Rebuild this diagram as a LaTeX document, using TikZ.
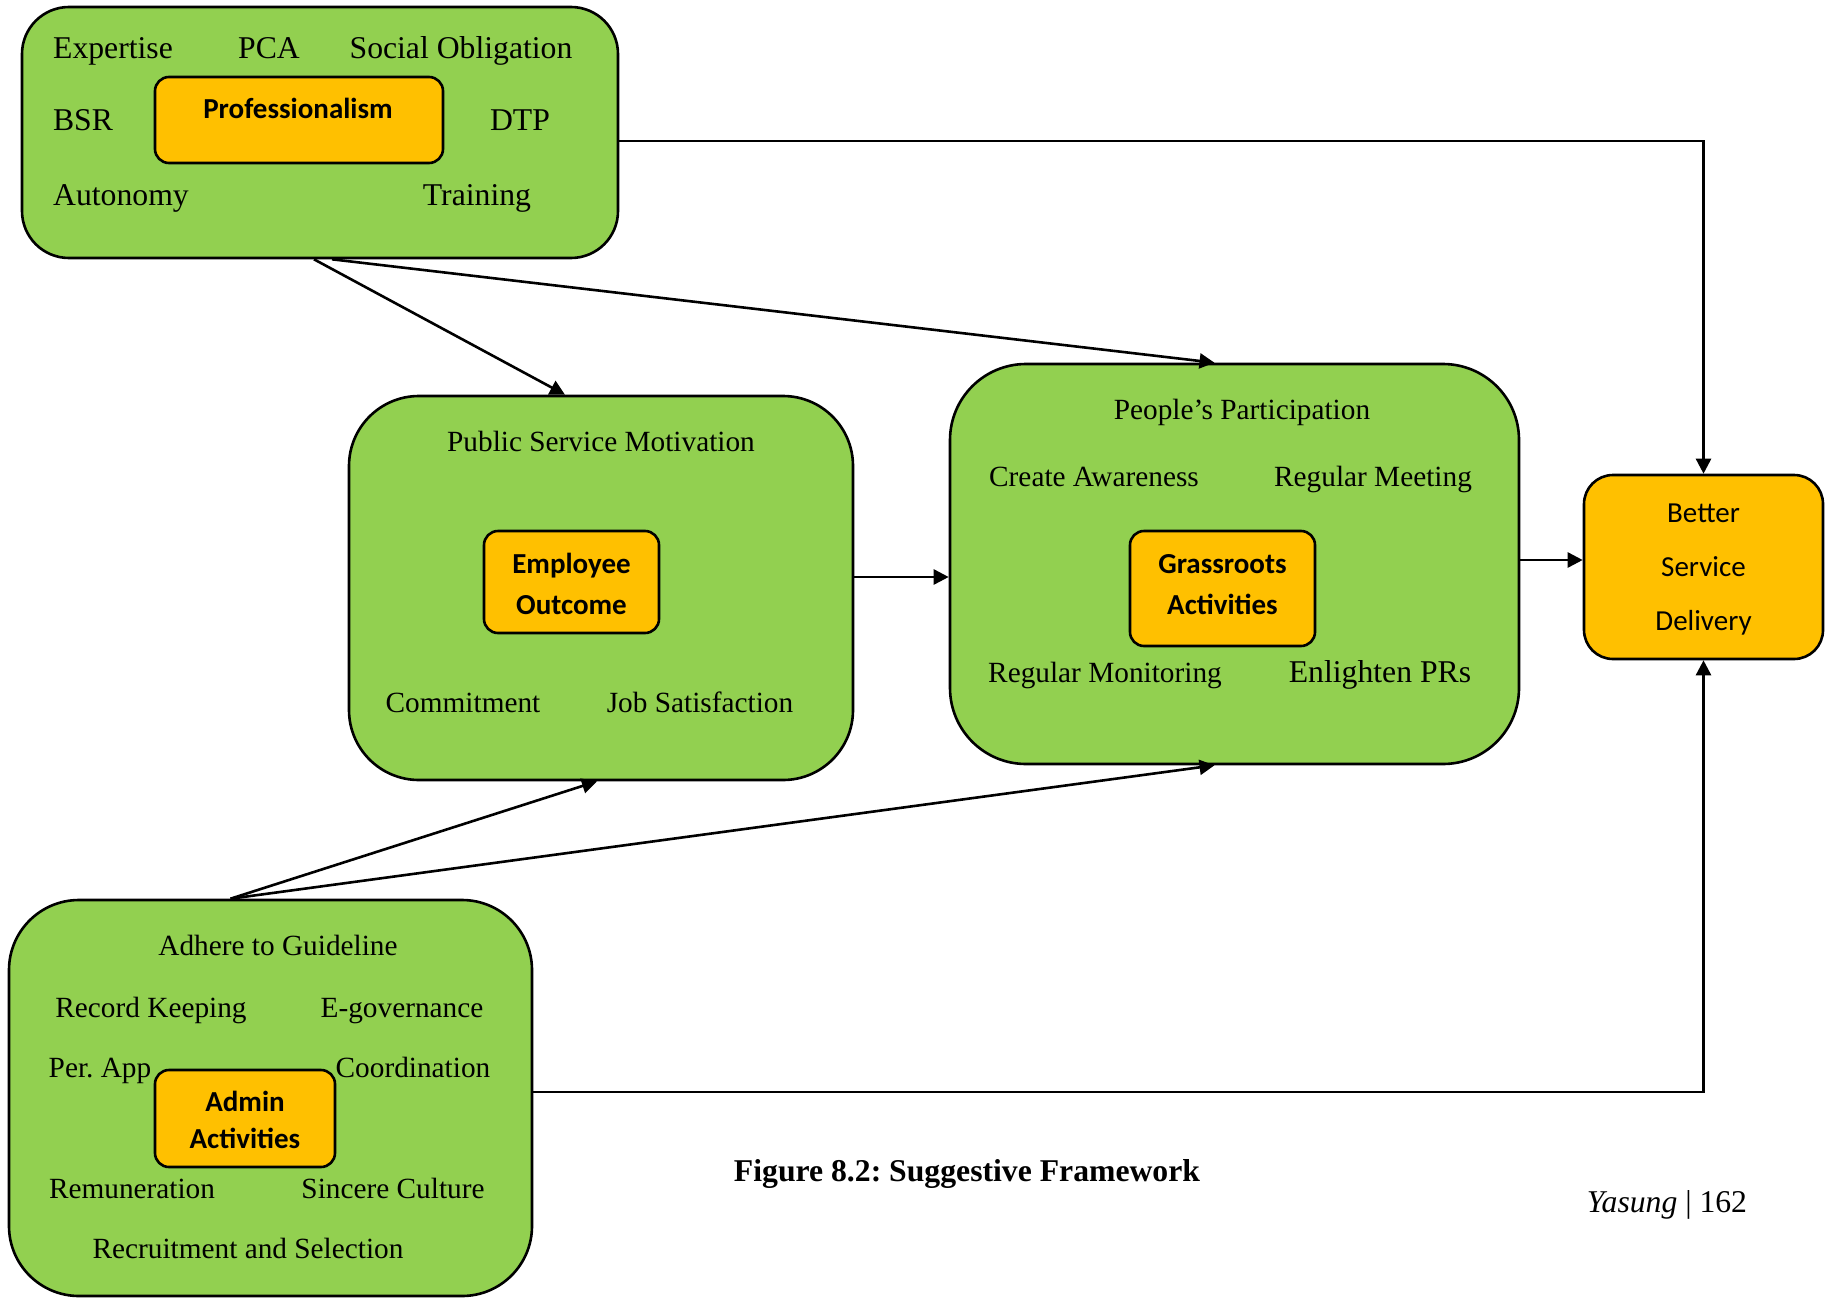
\documentclass[tikz,border=0pt]{standalone}
\usepackage{fontspec}
\setmainfont{Liberation Serif}
\newfontfamily\calibri{Carlito}
\usepackage{tikz}
\usetikzlibrary{arrows.meta,calc}
\frenchspacing
\definecolor{leaf}{HTML}{92D050}
\definecolor{amber}{HTML}{FFC000}
\tikzset{every picture/.append style={x=1pt,y=-1pt}}
\tikzset{group/.style={draw, line width=2.6pt, fill=leaf, rounded corners=#1}}
\tikzset{group/.default=50pt}
\tikzset{core/.style={draw, line width=2.6pt, fill=amber, rounded corners=#1}}
\tikzset{core/.default=14pt}
\tikzset{item/.style={inner sep=0pt, anchor=base, font=\fontsize{#1}{38}\selectfont}}
\tikzset{item/.default=29.3}
\tikzset{corelabel/.style={inner sep=0pt, align=center, font=\calibri\bfseries\fontsize{29}{41}\selectfont}}
\tikzset{goallabel/.style={inner sep=0pt, align=center, font=\calibri\fontsize{29}{54}\selectfont}}
\tikzset{arc/.style={-{Triangle[length=15pt,width=15pt]}, line width=2.6pt}}

\begin{document}
\begin{tikzpicture}
  \useasboundingbox (0,0) rectangle (1825,1298);
  % the four groups
  \node (grp) at (320,132.5)[group=47pt, minimum width=596pt, minimum height=251pt]{};
  \node (psm) at (601,588)[group=70pt, minimum width=504pt, minimum height=384pt]{};
  \node (pp) at (1234.5,564)[group=76pt, minimum width=569pt, minimum height=400pt]{};
  \node (adm) at (270.5,1098)[group=70pt, minimum width=523pt, minimum height=396pt]{};
  \node (bsd) at (1703.5,567)[core=29pt, minimum width=239pt, minimum height=184pt]{};
  \node (bsdtext) at (1703.5,569.3)[goallabel]{Better\\Service\\Delivery};

  % professionalism
  \node (prof) at (299,120)[core, minimum width=288pt, minimum height=86pt]{};
  \node (proftext) at (298,108)[corelabel]{Professionalism};
  \node (exp) at (113,59)[item=31.7]{Expertise};
  \node (pca) at (269,59)[item=31.7]{PCA};
  \node (soc) at (461,59)[item=31.7]{Social Obligation};
  \node (bsr) at (83,130.8)[item=31.7]{BSR};
  \node (dtp) at (520,130.8)[item=31.7]{DTP};
  \node (aut) at (121,205)[item=31.7]{Autonomy};
  \node (trn) at (477,205)[item=31.7]{Training};

  % public service motivation
  \node (emp) at (571.5,582)[core, minimum width=175pt, minimum height=102pt]{};
  \node (emptext) at (571.5,584.3)[corelabel]{Employee\\Outcome};
  \node (psmtext) at (601,451.8)[item]{Public Service Motivation};
  \node (com) at (463,712.7)[item]{Commitment};
  \node (job) at (700,712.7)[item]{Job Satisfaction};

  % people's participation
  \node (grs) at (1222.5,588.5)[core, minimum width=185pt, minimum height=115pt]{};
  \node (grstext) at (1222.5,585)[corelabel]{Grassroots\\Activities};
  \node (pptext) at (1242,419.8)[item]{People’s Participation};
  \node (cre) at (1094,486.3)[item]{Create Awareness};
  \node (reg) at (1373,486.3)[item]{Regular Meeting};
  \node (mon) at (1105,682.8)[item]{Regular Monitoring};
  \node (enl) at (1380,682.8)[item=31.7]{Enlighten PRs};

  % admin activities
  \node (aa) at (245,1118.5)[core, minimum width=180pt, minimum height=97pt]{};
  \node (aatext) at (245,1119.7)[corelabel]{Admin\\[-4pt]Activities};
  \node (adh) at (278,955.7)[item]{Adhere to Guideline};
  \node (rec) at (151,1017.3)[item]{Record Keeping};
  \node (egv) at (402,1017.3)[item]{E-governance};
  \node (per) at (100,1077.3)[item]{Per. App};
  \node (coo) at (413,1077.3)[item]{Coordination};
  \node (rem) at (132,1198.8)[item]{Remuneration};
  \node (sin) at (393,1198.8)[item]{Sincere Culture};
  \node (rsl) at (248,1258.7)[item]{Recruitment and Selection};

  \node (cap) at (967,1181)[item=31.7]{\bfseries Figure 8.2: Suggestive Framework};
  \node (pg) at (1667,1212)[item=31.7]{\textit{Yasung} | 162};

  \draw[arc] ([yshift=-8.5pt]grp.east) -| (bsd.north);
  \draw[arc] ([xshift=-6pt]grp.south) -- ([xshift=-36pt]psm.north);
  \draw[arc] ([xshift=12pt]grp.south) -- ([xshift=-20pt]pp.north);
  \coordinate (mid) at ([yshift=11pt]psm.east);
  \draw[arc] (mid) -- (mid -| pp.west);
  \coordinate (out) at ([yshift=4pt]pp.east);
  \draw[arc] (out) -- (out -| bsd.west);
  \draw[arc] ([xshift=-40pt]adm.north) -- ([xshift=-4pt]psm.south);
  \draw[arc] ([xshift=-40pt]adm.north) -- ([xshift=-20pt]pp.south);
  \draw[arc] ([yshift=6pt]adm.east) -| (bsd.south);
\end{tikzpicture}
\end{document}
